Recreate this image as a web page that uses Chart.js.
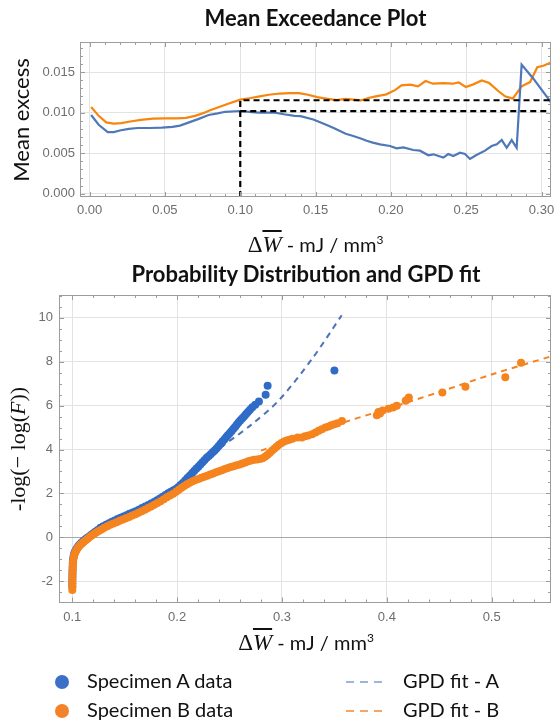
<!DOCTYPE html>
<html>
<head>
<meta charset="utf-8">
<script src="https://cdn.jsdelivr.net/npm/chart.js@4.4.1/dist/chart.umd.min.js"></script>
<style>
  body { margin: 0; background: #fff; }
  #page { position: relative; width: 555px; height: 721px; overflow: hidden; font-family: 'Lato', sans-serif; color: #111; }
  canvas { position: absolute; left: 0; }
  .title { position: absolute; text-align: center; font-weight: bold; font-size: 22px; line-height: 26px; }
  .xt { position: absolute; text-align: center; font-size: 20px; line-height: 28px; white-space: nowrap; }
  .xt .m { font-family: 'Liberation Serif', serif; font-size: 23px; }
  .xt .ov { font-style: italic; text-decoration: overline; text-decoration-thickness: 1.5px; }
  .xt sup { font-size: 12px; }
  .yt { position: absolute; transform: translate(-50%, -50%) rotate(-90deg); white-space: nowrap; }
  .lg { position: absolute; font-size: 20px; line-height: 24px; white-space: nowrap; }
  .dot { position: absolute; width: 14px; height: 14px; border-radius: 50%; }
  .dash { position: absolute; width: 37px; height: 2px; }
</style>
</head>
<body>
<div id="page">
  <canvas id="chartMean" width="555" height="230" style="top:0"></canvas>
  <canvas id="chartProb" width="555" height="390" style="top:250px"></canvas>

  <div class="title" style="left:80px;width:471px;top:5px">Mean Exceedance Plot</div>
  <div class="xt" style="left:80px;width:471px;top:226px"><span class="m">&Delta;<span class="ov">W</span></span> - mJ / mm<sup>3</sup></div>
  <div class="yt" style="left:20px;top:120px;font-size:22px">Mean excess</div>

  <div class="title" style="left:59px;width:494px;top:261px">Probability Distribution and GPD fit</div>
  <div class="xt" style="left:59px;width:494px;top:624px"><span class="m">&Delta;<span class="ov">W</span></span> - mJ / mm<sup>3</sup></div>
  <div class="yt" style="left:18px;top:449px;font-family:'Liberation Serif',serif;font-size:22px">-log(&minus; log(<i>F</i>))</div>

  <div class="dot" style="left:55px;top:675px;background:#3c6fc8"></div>
  <div class="lg" style="left:87px;top:668px">Specimen A data</div>
  <div class="dot" style="left:55px;top:704px;background:#f2832a"></div>
  <div class="lg" style="left:87px;top:697px">Specimen B data</div>
  <div class="dash" style="left:346px;top:681px;background:repeating-linear-gradient(to right,#9db4e0 0 8px,transparent 8px 14px)"></div>
  <div class="lg" style="left:403px;top:668px">GPD fit - A</div>
  <div class="dash" style="left:346px;top:710px;background:repeating-linear-gradient(to right,#f7a665 0 8px,transparent 8px 14px)"></div>
  <div class="lg" style="left:403px;top:697px">GPD fit - B</div>
</div>

<script>
// mean exceedance, specimen A
const meanAX = [0.001, 0.006, 0.012, 0.016, 0.020, 0.026, 0.032, 0.040, 0.048, 0.055, 0.060, 0.066, 0.072, 0.079, 0.085, 0.090, 0.100, 0.106, 0.112, 0.118, 0.123, 0.129, 0.136, 0.140, 0.1485, 0.153, 0.1574, 0.162, 0.1662, 0.170, 0.175, 0.180, 0.1839, 0.188, 0.1928, 0.1994, 0.2038, 0.2083, 0.2149, 0.2193, 0.2249, 0.2282, 0.2348, 0.2381, 0.2414, 0.2459, 0.2492, 0.2525, 0.2568, 0.2625, 0.2669, 0.2703, 0.2736, 0.2769, 0.2802, 0.2835, 0.2868, 0.2946, 0.3063];
const meanAY = [0.0097, 0.0085, 0.0076, 0.0076, 0.0078, 0.0080, 0.0081, 0.0081, 0.00815, 0.00825, 0.0084, 0.0088, 0.0092, 0.0097, 0.0099, 0.0101, 0.0102, 0.0101, 0.0100, 0.0100, 0.0100, 0.0098, 0.0096, 0.00956, 0.00915, 0.0088, 0.00846, 0.0081, 0.00772, 0.0074, 0.00711, 0.0068, 0.00654, 0.0063, 0.00609, 0.00588, 0.0056, 0.00572, 0.00539, 0.00531, 0.00474, 0.00486, 0.00445, 0.0049, 0.00466, 0.00506, 0.0049, 0.00429, 0.00478, 0.00531, 0.00588, 0.00609, 0.00662, 0.00567, 0.00662, 0.00567, 0.01593, 0.01418, 0.01125];

// mean exceedance, specimen B
const meanBX = [0.001, 0.006, 0.011, 0.016, 0.021, 0.027, 0.034, 0.042, 0.050, 0.058, 0.064, 0.070, 0.075, 0.080, 0.086, 0.092, 0.100, 0.107, 0.113, 0.119, 0.126, 0.133, 0.139, 0.145, 0.151, 0.158, 0.164, 0.170, 0.175, 0.180, 0.185, 0.190, 0.197, 0.203, 0.207, 0.213, 0.218, 0.223, 0.228, 0.235, 0.241, 0.245, 0.2497, 0.2547, 0.2603, 0.2653, 0.2713, 0.2758, 0.2809, 0.2868, 0.2924, 0.2972, 0.3012, 0.3063];
const meanBY = [0.0107, 0.0096, 0.0088, 0.00865, 0.0087, 0.0089, 0.0091, 0.00925, 0.0093, 0.0093, 0.00935, 0.0096, 0.0099, 0.0103, 0.0107, 0.0111, 0.0116, 0.0118, 0.0120, 0.0122, 0.01235, 0.0124, 0.0124, 0.0122, 0.0119, 0.0117, 0.01155, 0.0117, 0.0116, 0.0115, 0.0118, 0.0120, 0.01225, 0.0128, 0.01336, 0.01344, 0.01323, 0.01389, 0.01356, 0.01364, 0.01356, 0.01372, 0.01315, 0.01348, 0.01397, 0.01364, 0.01266, 0.0120, 0.01172, 0.01323, 0.01376, 0.0156, 0.01577, 0.01618];

// threshold guides
const thrBX = [0.1, 0.1, 0.3063];
const thrBY = [-0.0004, 0.01152, 0.01152];
const thrAX = [0.1, 0.3063];
const thrAY = [0.01017, 0.01017];

// probability plot, specimen A data
const specAX = [0.1000, 0.1000, 0.1000, 0.1001, 0.1001, 0.1002, 0.1003, 0.1004, 0.1006, 0.1009, 0.1013, 0.1018, 0.1026, 0.1036, 0.1047, 0.1060, 0.1075, 0.1090, 0.1105, 0.1122, 0.1140, 0.1158, 0.1178, 0.1198, 0.1220, 0.1243, 0.1268, 0.1295, 0.1322, 0.1350, 0.1378, 0.1405, 0.1432, 0.1460, 0.1488, 0.1516, 0.1545, 0.1576, 0.1605, 0.1635, 0.1665, 0.1695, 0.1725, 0.1752, 0.1780, 0.1808, 0.1836, 0.1862, 0.1888, 0.1914, 0.1940, 0.1965, 0.1989, 0.2010, 0.2032, 0.2054, 0.2076, 0.2098, 0.2120, 0.2142, 0.2162, 0.2182, 0.2202, 0.2222, 0.2242, 0.2262, 0.2282, 0.2302, 0.2322, 0.2342, 0.2360, 0.2378, 0.2396, 0.2414, 0.2432, 0.2450, 0.2467, 0.2484, 0.2501, 0.2518, 0.2535, 0.2552, 0.2568, 0.2585, 0.2602, 0.2620, 0.2638, 0.2656, 0.2675, 0.2695, 0.2717, 0.2745, 0.2780, 0.2844, 0.2863, 0.3500];
const specAY = [-2.25, -2.10, -1.95, -1.80, -1.65, -1.50, -1.35, -1.20, -1.07, -0.95, -0.84, -0.74, -0.65, -0.56, -0.47, -0.39, -0.31, -0.24, -0.17, -0.10, -0.03, 0.03, 0.10, 0.17, 0.25, 0.33, 0.43, 0.50, 0.57, 0.64, 0.71, 0.77, 0.83, 0.89, 0.95, 1.01, 1.07, 1.13, 1.19, 1.26, 1.33, 1.40, 1.47, 1.54, 1.61, 1.69, 1.77, 1.85, 1.93, 2.01, 2.08, 2.14, 2.20, 2.28, 2.38, 2.48, 2.59, 2.70, 2.81, 2.92, 3.02, 3.12, 3.22, 3.32, 3.42, 3.52, 3.62, 3.71, 3.80, 3.89, 3.97, 4.06, 4.16, 4.26, 4.36, 4.46, 4.56, 4.65, 4.74, 4.83, 4.93, 5.03, 5.13, 5.23, 5.32, 5.41, 5.51, 5.61, 5.71, 5.81, 5.93, 6.04, 6.19, 6.50, 6.90, 7.60];

// probability plot, specimen B data
const specBX = [0.1000, 0.1000, 0.1000, 0.1001, 0.1001, 0.1002, 0.1003, 0.1004, 0.1006, 0.1008, 0.1011, 0.1015, 0.1021, 0.1029, 0.1039, 0.1050, 0.1063, 0.1078, 0.1094, 0.1110, 0.1128, 0.1146, 0.1165, 0.1185, 0.1206, 0.1228, 0.1252, 0.1278, 0.1305, 0.1333, 0.1362, 0.1392, 0.1422, 0.1452, 0.1482, 0.1512, 0.1542, 0.1572, 0.1602, 0.1632, 0.1662, 0.1692, 0.1722, 0.1752, 0.1782, 0.1812, 0.1842, 0.1872, 0.1902, 0.1932, 0.1962, 0.1990, 0.2016, 0.2042, 0.2068, 0.2094, 0.2120, 0.2147, 0.2175, 0.2203, 0.2231, 0.2259, 0.2287, 0.2315, 0.2343, 0.2371, 0.2399, 0.2427, 0.2455, 0.2483, 0.2511, 0.2539, 0.2567, 0.2595, 0.2622, 0.2650, 0.2678, 0.2706, 0.2734, 0.2762, 0.2790, 0.2815, 0.2838, 0.2860, 0.2882, 0.2904, 0.2926, 0.2948, 0.2970, 0.2995, 0.3020, 0.3045, 0.3070, 0.3100, 0.3150, 0.3190, 0.3220, 0.3250, 0.3287, 0.3320, 0.3350, 0.3380, 0.3414, 0.3445, 0.3470, 0.3500, 0.3530, 0.3572, 0.3905, 0.3920, 0.3935, 0.3960, 0.4016, 0.4060, 0.4095, 0.4180, 0.4200, 0.4210, 0.4530, 0.4750, 0.5130, 0.5280];
const specBY = [-2.40, -2.25, -2.10, -1.95, -1.80, -1.65, -1.50, -1.35, -1.22, -1.10, -0.98, -0.87, -0.77, -0.68, -0.59, -0.50, -0.42, -0.34, -0.27, -0.20, -0.13, -0.06, 0.01, 0.08, 0.15, 0.22, 0.29, 0.36, 0.43, 0.50, 0.57, 0.63, 0.69, 0.75, 0.81, 0.87, 0.93, 0.99, 1.05, 1.12, 1.19, 1.26, 1.33, 1.40, 1.48, 1.56, 1.64, 1.73, 1.82, 1.91, 1.99, 2.08, 2.17, 2.26, 2.34, 2.42, 2.49, 2.55, 2.61, 2.66, 2.71, 2.76, 2.81, 2.86, 2.91, 2.96, 3.01, 3.06, 3.11, 3.16, 3.20, 3.24, 3.28, 3.32, 3.36, 3.41, 3.46, 3.50, 3.53, 3.55, 3.57, 3.60, 3.67, 3.75, 3.84, 3.94, 4.04, 4.13, 4.22, 4.30, 4.36, 4.41, 4.45, 4.49, 4.55, 4.55, 4.60, 4.64, 4.70, 4.78, 4.85, 4.92, 5.00, 5.05, 5.10, 5.15, 5.20, 5.30, 5.56, 5.71, 5.64, 5.78, 5.86, 5.92, 5.99, 6.22, 6.30, 6.37, 6.60, 6.86, 7.29, 7.95];

// GPD fits
const fitAX = [0.225, 0.240, 0.270, 0.297, 0.329, 0.357];
const fitAY = [3.45, 4.04, 5.10, 6.24, 8.15, 10.12];
const fitBX = [0.280, 0.350, 0.400, 0.450, 0.500, 0.557];
const fitBY = [3.95, 5.10, 5.85, 6.62, 7.42, 8.25];

const toPts = (xs, ys) => xs.map((x, i) => ({x: x, y: ys[i]}));

const tickFont = {family: "'Liberation Sans', sans-serif", size: 13};
const tickColor = '#6e6e6e';
const gridColor = '#e3e3e3';

// Mathematica style frame with inward major/minor ticks
const frameTicks = {
  id: 'frameTicks',
  afterDatasetsDraw(chart, args, o) {
    const ctx = chart.ctx, a = chart.chartArea;
    const sx = chart.scales.x, sy = chart.scales.y;
    const each = (scale, step, fn) => {
      const start = Math.ceil(scale.min / step - 1e-9);
      for (let i = start; i * step <= scale.max + 1e-12; i++) fn(Math.round(scale.getPixelForValue(i * step)) + 0.5, i);
    };
    ctx.save();
    ctx.strokeStyle = '#9c9c9c';
    ctx.lineWidth = 1;
    ctx.beginPath();
    each(sx, o.xMinor, (p, i) => {
      const len = (i % o.xEvery === 0) ? 5 : 3;
      ctx.moveTo(p, a.bottom); ctx.lineTo(p, a.bottom - len);
      ctx.moveTo(p, a.top); ctx.lineTo(p, a.top + len);
    });
    each(sy, o.yMinor, (p, i) => {
      const len = (i % o.yEvery === 0) ? 5 : 3;
      ctx.moveTo(a.left, p); ctx.lineTo(a.left + len, p);
      ctx.moveTo(a.right, p); ctx.lineTo(a.right - len, p);
    });
    ctx.stroke();
    ctx.strokeRect(Math.round(a.left) + 0.5, Math.round(a.top) + 0.5, Math.round(a.width) - 1, Math.round(a.height) - 1);
    ctx.restore();
  }
};

new Chart(document.getElementById('chartMean'), {
  type: 'scatter',
  plugins: [frameTicks],
  data: {
    datasets: [
      {label: 'threshold B', data: toPts(thrBX, thrBY), showLine: true, borderColor: '#000', borderDash: [6, 4], borderWidth: 2.2, pointRadius: 0},
      {label: 'threshold A', data: toPts(thrAX, thrAY), showLine: true, borderColor: '#000', borderDash: [6, 4], borderWidth: 2.2, pointRadius: 0},
      {label: 'Specimen A', data: toPts(meanAX, meanAY), showLine: true, borderColor: '#4f78b8', borderWidth: 2.2, pointRadius: 0},
      {label: 'Specimen B', data: toPts(meanBX, meanBY), showLine: true, borderColor: '#f7850e', borderWidth: 2.2, pointRadius: 0}
    ]
  },
  options: {
    responsive: false,
    animation: false,
    layout: {padding: {top: 42, right: 4, left: 0, bottom: 0}},
    scales: {
      x: {
        type: 'linear', min: -0.0064, max: 0.3063,
        ticks: {stepSize: 0.05, includeBounds: false, autoSkip: false, maxRotation: 0, padding: 6,
          color: tickColor, font: tickFont, callback: v => v.toFixed(2)},
        grid: {color: gridColor, drawTicks: false},
        border: {display: false},
        afterFit: s => { s.height = 33; s.paddingLeft = 0; s.paddingRight = 0; }
      },
      y: {
        type: 'linear', min: -0.0004, max: 0.0187,
        ticks: {stepSize: 0.005, includeBounds: false, autoSkip: false, padding: 5,
          color: tickColor, font: tickFont, callback: v => v.toFixed(3)},
        grid: {color: gridColor, drawTicks: false},
        border: {display: false},
        afterFit: s => { s.width = 80; s.paddingTop = 0; s.paddingBottom = 0; }
      }
    },
    plugins: {
      legend: {display: false},
      tooltip: {enabled: false},
      frameTicks: {xMinor: 0.01, xEvery: 5, yMinor: 0.001, yEvery: 5}
    }
  }
});

new Chart(document.getElementById('chartProb'), {
  type: 'scatter',
  plugins: [frameTicks],
  data: {
    datasets: [
      {label: 'Specimen B data', data: toPts(specBX, specBY), backgroundColor: '#f5841f', borderWidth: 0, pointRadius: 4},
      {label: 'Specimen A data', data: toPts(specAX, specAY), backgroundColor: '#2f6cc8', borderWidth: 0, pointRadius: 4},
      {label: 'GPD fit - B', data: toPts(fitBX, fitBY), showLine: true, tension: 0.3, borderColor: '#f5821f', borderDash: [6, 5], borderWidth: 2, pointRadius: 0},
      {label: 'GPD fit - A', data: toPts(fitAX, fitAY), showLine: true, tension: 0.3, borderColor: '#4d72b8', borderDash: [6, 5], borderWidth: 2, pointRadius: 0}
    ]
  },
  options: {
    responsive: false,
    animation: false,
    layout: {padding: {top: 45, right: 2, left: 0, bottom: 0}},
    scales: {
      x: {
        type: 'linear', min: 0.0873, max: 0.5566,
        ticks: {stepSize: 0.1, includeBounds: false, autoSkip: false, maxRotation: 0, padding: 7,
          color: tickColor, font: tickFont, callback: v => v.toFixed(1)},
        grid: {color: gridColor, drawTicks: false},
        border: {display: false},
        afterFit: s => { s.height = 37.5; s.paddingLeft = 0; s.paddingRight = 0; }
      },
      y: {
        type: 'linear', min: -2.97, max: 11.04,
        ticks: {stepSize: 2, includeBounds: false, autoSkip: false, padding: 6,
          color: tickColor, font: tickFont, callback: v => String(v)},
        grid: {color: ctx => ctx.tick && ctx.tick.value === 0 ? '#a8a8a8' : gridColor, drawTicks: false},
        border: {display: false},
        afterFit: s => { s.width = 59; s.paddingTop = 0; s.paddingBottom = 0; }
      }
    },
    plugins: {
      legend: {display: false},
      tooltip: {enabled: false},
      frameTicks: {xMinor: 0.02, xEvery: 5, yMinor: 0.5, yEvery: 4}
    }
  }
});
</script>
</body>
</html>
